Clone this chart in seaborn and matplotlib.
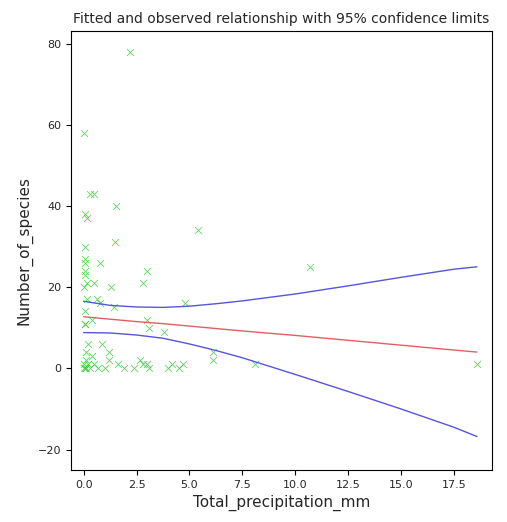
import numpy as np
import pandas as pd
import matplotlib
matplotlib.use('Agg')
import matplotlib.pyplot as plt
import seaborn as sb

precip = [0.3, 0.5, 1.55, 0.05, 0.15, 5.4, 0.05, 1.47, 0.05, 0.05, 0.75, 0.05, 0.05, 3.0,
          0.15, 0.5, 0.0, 1.3, 2.8, 0.15, 0.65, 0.75, 1.45, 4.8, 0.05, 0.05, 0.05, 0.4,
          3.0, 3.1, 3.8, 0.2, 0.85, 0.1, 0.4, 1.2, 1.2, 6.1, 6.1, 8.1, 2.65, 3.0,
          0.0, 0.0, 0.05, 0.1, 0.3, 0.5, 0.7, 1.0, 1.6, 1.9, 2.4, 2.8, 3.1, 4.0, 4.2,
          4.5, 4.7, 0.1, 0.2, 2.2, 0.0, 10.7, 18.6]
species = [43, 43, 40, 38, 37, 34, 30, 31, 27, 26, 26, 24, 23, 24,
           21, 21, 20, 20, 21, 17, 17, 16, 15, 16, 14, 11, 11, 12,
           12, 10, 9, 6, 6, 4, 3, 4, 2, 4, 2, 1, 2, 1,
           0, 1, 0, 0, 0, 1, 0, 0, 1, 0, 0, 1, 0, 0, 1,
           0, 1, 2, 1, 78, 58, 25, 1]

fit_x = [0, 1.25, 2.5, 3.75, 5, 6.25, 7.5, 10, 12.5, 15, 17.5, 18.6]
fit_y = [12.7, 12.1, 11.5, 11.0, 10.4, 9.8, 9.2, 8.1, 6.9, 5.7, 4.5, 4.0]
upper = [16.5, 15.5, 15.1, 15.0, 15.3, 15.9, 16.6, 18.3, 20.3, 22.4, 24.4, 25.0]
lower = [8.8, 8.7, 8.2, 7.4, 6.0, 4.4, 2.6, -1.5, -5.7, -10.0, -14.5, -16.8]

sb.set_style('ticks')
fig, ax = plt.subplots(figsize=(5.07, 5.22), dpi=100)
fig.subplots_adjust(left=0.14, right=0.97, bottom=0.1, top=0.94)

df = pd.DataFrame({'x': precip, 'y': species})
sb.scatterplot(data=df, x='x', y='y', marker='x', color='#33cc33', s=25,
               linewidth=0.6, alpha=0.8, ax=ax)
ax.plot(fit_x, fit_y, color='#e06060', lw=1)
ax.plot(fit_x, upper, color='#5555dd', lw=1)
ax.plot(fit_x, lower, color='#5555dd', lw=1)

ax.set_xlim(-0.6, 19.3)
ax.set_ylim(-25, 83)
ax.set_xticks([0, 2.5, 5, 7.5, 10, 12.5, 15, 17.5])
ax.set_xticklabels(['0.0', '2.5', '5.0', '7.5', '10.0', '12.5', '15.0', '17.5'])
ax.set_yticks([-20, 0, 20, 40, 60, 80])
ax.tick_params(labelsize=8, color='black')
for sp in ax.spines.values():
    sp.set_color('black')
ax.set_xlabel('Total_precipitation_mm', fontsize=11)
ax.set_ylabel('Number_of_species', fontsize=11)
ax.set_title('Fitted and observed relationship with 95% confidence limits', fontsize=10)

plt.savefig('out.png', dpi=100)
